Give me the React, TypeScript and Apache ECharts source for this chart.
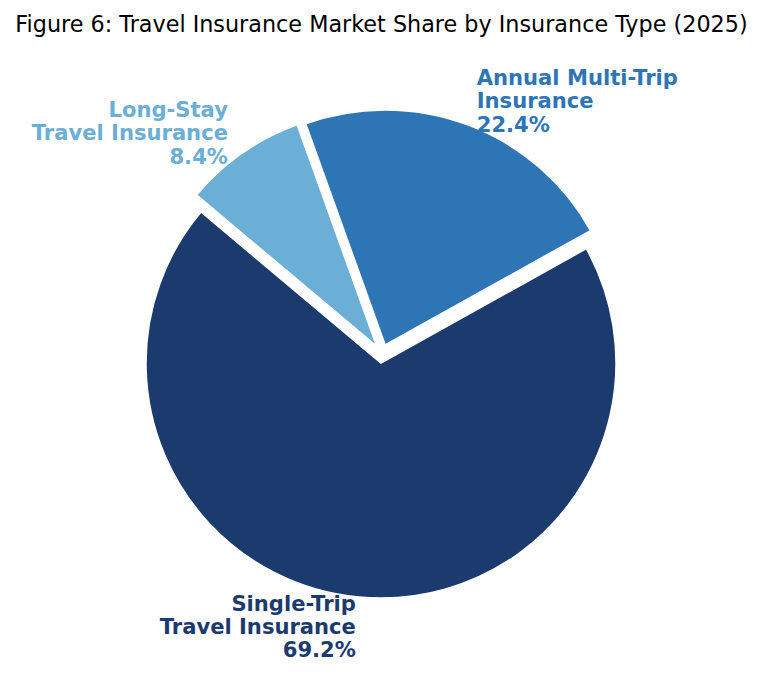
import React, { useEffect, useRef } from "react";
import * as echarts from "echarts";

const titleText = "Figure 6: Travel Insurance Market Share by Insurance Type (2025)";
const categories = [
  "Single-Trip\nTravel Insurance",
  "Annual Multi-Trip\nInsurance",
  "Long-Stay\nTravel Insurance",
];
const shares = [69.2, 22.4, 8.4];
const colors = ["#1B3A6E", "#2E75B6", "#6BAED6"];
const labelGaps = [29.6, 25.6, 24.8];

export default function App() {
  const ref = useRef<HTMLDivElement>(null);
  useEffect(() => {
    if (!ref.current) return;
    const chart = echarts.init(ref.current, undefined, { renderer: "svg" });
    chart.setOption({
      animation: false,
      backgroundColor: "#ffffff",
      title: {
        text: titleText,
        left: "center",
        top: 13,
        padding: 0,
        textStyle: {
          fontFamily: "DejaVu Sans",
          fontSize: 22.3,
          fontWeight: "normal",
          color: "#000000",
        },
      },
      series: [
        {
          type: "pie",
          center: [381.9, 353.7],
          radius: 235,
          startAngle: 140,
          clockwise: false,
          selectedMode: "multiple",
          selectedOffset: 9.4,
          avoidLabelOverlap: false,
          emphasis: { disabled: true },
          itemStyle: { borderColor: "#ffffff", borderWidth: 1.5 },
          label: {
            show: true,
            position: "outside",
            overflow: "none",
            distanceToLabelLine: 0,
            fontFamily: "DejaVu Sans",
            fontWeight: "bold",
            fontSize: 21.1,
            lineHeight: 23.3,
            formatter: (p: any) => `${p.name}\n${p.value.toFixed(1)}%`,
          },
          labelLine: { show: false, length: 29.6, length2: 0 },
          data: categories.map((c, i) => ({
            name: c,
            value: shares[i],
            selected: true,
            itemStyle: { color: colors[i] },
            label: { color: colors[i] },
            labelLine: { show: false, length: labelGaps[i], length2: 0 },
          })),
        },
      ],
    });
    return () => chart.dispose();
  }, []);
  return (
    <div
      ref={ref}
      style={{ position: "fixed", left: 0, top: 0, width: 763, height: 676 }}
    />
  );
}
